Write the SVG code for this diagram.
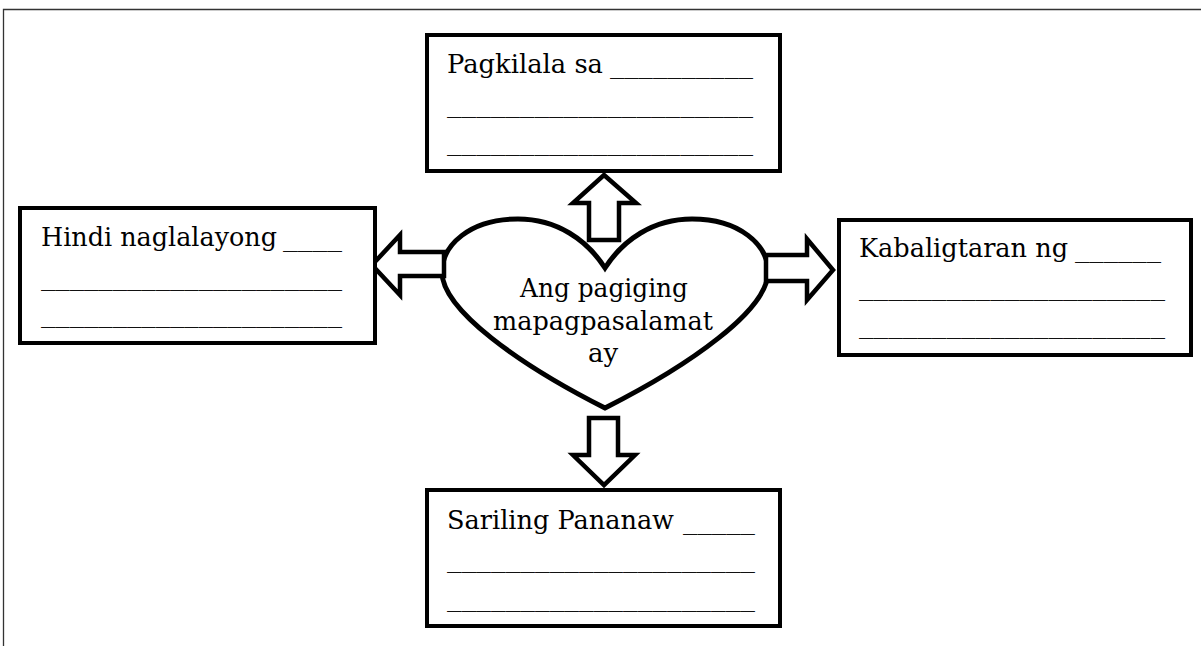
<svg xmlns="http://www.w3.org/2000/svg" width="1201" height="646" viewBox="0 0 1201 646">
<style>
  .box { fill: #fff; stroke: #000; stroke-width: 4; }
  .arrow { fill: #fff; stroke: #000; stroke-width: 4.5; stroke-linejoin: miter; }
  .heart { fill: #fff; stroke: #000; stroke-width: 5; stroke-linejoin: miter; }
  .t { font-family: "DejaVu Serif", "Liberation Serif", serif; font-size: 26px; fill: #000; }
  .u { font-family: "DejaVu Serif", "Liberation Serif", serif; font-size: 26px; fill: #111; }
  .c { text-anchor: middle; }
</style>
<rect width="1201" height="646" fill="#fff"/>
<path d="M3.5,646 V9.5 H1201" fill="none" stroke="#333" stroke-width="1.3"/>

<g id="heart">
  <path class="heart" d="M605,268 C587,240 557,219 518,219 C470,219 442,245 442,272 C442,310 520,365 605,408 C690,365 768,310 768,272 C768,245 740,219 692,219 C653,219 623,240 605,268 Z"/>
  <text class="t c" x="604" y="297" textLength="168" lengthAdjust="spacingAndGlyphs">Ang pagiging</text>
  <text class="t c" x="603" y="330" textLength="220" lengthAdjust="spacingAndGlyphs">mapagpasalamat</text>
  <text class="t c" x="603" y="362">ay</text>
</g>

<g id="connectors">
  <polygon class="arrow" points="604,175 636,203 619,203 619,240 589,240 589,203 573,203"/>
  <polygon class="arrow" points="589,418 618,418 618,455 635,455 604,485 573,455 589,455"/>
  <polygon class="arrow" points="372,265 400,235 400,252 444,252 444,276 400,276 400,295"/>
  <polygon class="arrow" points="766,255 807,255 807,239 833,270 807,300 807,281 766,281"/>
</g>

<g id="top">
  <rect class="box" x="427" y="35" width="353" height="136"/>
  <text class="t" y="73"><tspan x="447" textLength="156" lengthAdjust="spacingAndGlyphs">Pagkilala sa</tspan> <tspan class="u" x="610" textLength="143" lengthAdjust="spacingAndGlyphs">__________</tspan></text>
  <text class="u" x="447" y="112" textLength="306" lengthAdjust="spacingAndGlyphs">_____________________</text>
  <text class="u" x="447" y="150" textLength="306" lengthAdjust="spacingAndGlyphs">_____________________</text>
</g>

<g id="left">
  <rect class="box" x="20" y="208" width="355" height="135"/>
  <text class="t" y="246"><tspan x="41" textLength="236" lengthAdjust="spacingAndGlyphs">Hindi naglalayong</tspan> <tspan class="u" x="283" textLength="59" lengthAdjust="spacingAndGlyphs">____</tspan></text>
  <text class="u" x="41" y="285" textLength="301" lengthAdjust="spacingAndGlyphs">_____________________</text>
  <text class="u" x="41" y="322" textLength="301" lengthAdjust="spacingAndGlyphs">_____________________</text>
</g>

<g id="right">
  <rect class="box" x="839" y="220" width="352" height="135"/>
  <text class="t" y="257"><tspan x="859" textLength="209" lengthAdjust="spacingAndGlyphs">Kabaligtaran ng</tspan> <tspan class="u" x="1075" textLength="86" lengthAdjust="spacingAndGlyphs">______</tspan></text>
  <text class="u" x="859" y="295" textLength="306" lengthAdjust="spacingAndGlyphs">_____________________</text>
  <text class="u" x="859" y="333" textLength="306" lengthAdjust="spacingAndGlyphs">_____________________</text>
</g>

<g id="bottom">
  <rect class="box" x="427" y="490" width="353" height="136"/>
  <text class="t" y="529"><tspan x="447" textLength="227" lengthAdjust="spacingAndGlyphs">Sariling Pananaw</tspan> <tspan class="u" x="683" textLength="72" lengthAdjust="spacingAndGlyphs">_____</tspan></text>
  <text class="u" x="447" y="567" textLength="308" lengthAdjust="spacingAndGlyphs">_____________________</text>
  <text class="u" x="447" y="606" textLength="308" lengthAdjust="spacingAndGlyphs">_____________________</text>
</g>
</svg>
